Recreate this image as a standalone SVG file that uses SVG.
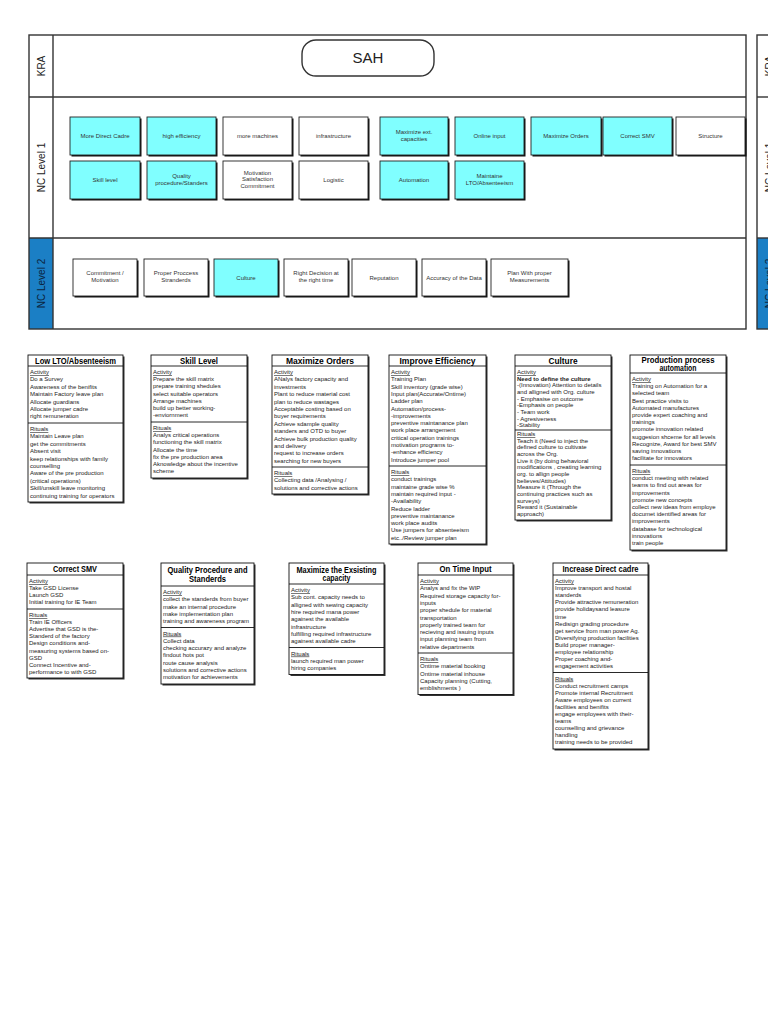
<svg xmlns="http://www.w3.org/2000/svg" width="768" height="1024" viewBox="0 0 768 1024">
<style>
.frame{fill:none;stroke:#333;stroke-width:1.4}
.fl{stroke:#333;stroke-width:1.4}
.lbl{font-family:"Liberation Sans",Arial,sans-serif;font-size:10px;fill:#222}
.lbl2{font-family:"Liberation Sans",Arial,sans-serif;font-size:10px;fill:#0b2540}
.sh{fill:#111}
.nb{stroke:#222;stroke-width:0.9}
.cy{fill:#80ffff}
.wh{fill:#fff}
.nt{font-family:"Liberation Sans",Arial,sans-serif;font-size:6px;fill:#333;text-anchor:middle}
.cb{fill:#fff;stroke:#111;stroke-width:0.9}
.cs{fill:#333}
.dv{stroke:#111;stroke-width:0.9}
.ttl{font-family:"Liberation Sans",Arial,sans-serif;font-size:9px;font-weight:bold;fill:#000;text-anchor:middle}
.tx{font-family:"Liberation Sans",Arial,sans-serif;font-size:6px;fill:#222}
.u{text-decoration:underline}
.b{font-weight:bold}
</style>
<rect width="768" height="1024" fill="#fff"/>

<g id="frame">
<rect x="29" y="238" width="24" height="91" fill="#1b7fc5"/>
<rect class="frame" x="29" y="35" width="717" height="294"/>
<line class="fl" x1="53" y1="35" x2="53" y2="329"/>
<line class="fl" x1="29" y1="97" x2="746" y2="97"/>
<line class="fl" x1="29" y1="238" x2="746" y2="238"/>
<text class="lbl" transform="translate(44.6,66) rotate(-90)" text-anchor="middle">KRA</text>
<text class="lbl" transform="translate(44.6,167.5) rotate(-90)" text-anchor="middle">NC Level 1</text>
<text class="lbl2" transform="translate(44.6,283.5) rotate(-90)" text-anchor="middle">NC Level 2</text>
</g>

<g id="frame-right">
<rect x="757" y="238" width="24" height="91" fill="#1b7fc5"/>
<rect class="frame" x="757" y="35" width="40" height="294"/>
<line class="fl" x1="757" y1="97" x2="768" y2="97"/>
<line class="fl" x1="757" y1="238" x2="768" y2="238"/>
<text class="lbl" transform="translate(772.6,66) rotate(-90)" text-anchor="middle">KRA</text>
<text class="lbl" transform="translate(772.6,167.5) rotate(-90)" text-anchor="middle">NC Level 1</text>
<text class="lbl2" transform="translate(772.6,283.5) rotate(-90)" text-anchor="middle">NC Level 2</text>
</g>

<g id="sah">
<rect x="302" y="40" width="132" height="36" rx="14" fill="#fff" stroke="#333" stroke-width="1.4"/>
<text x="368" y="63" font-family="Liberation Sans, Arial, sans-serif" font-size="15" fill="#222" text-anchor="middle">SAH</text>
</g>

<g id="nc1-more-direct-cadre"><rect class="sh" x="71.5" y="118.5" width="70" height="38"/><rect class="cy nb" x="70" y="117" width="70" height="38"/><text class="nt" x="105" y="138">More Direct Cadre</text></g>
<g id="nc1-high-efficiency"><rect class="sh" x="148.5" y="118.5" width="69" height="38"/><rect class="cy nb" x="147" y="117" width="69" height="38"/><text class="nt" x="181.5" y="138">high efficiency</text></g>
<g id="nc1-more-machines"><rect class="sh" x="224.5" y="118.5" width="69" height="38"/><rect class="wh nb" x="223" y="117" width="69" height="38"/><text class="nt" x="257.5" y="138">more machines</text></g>
<g id="nc1-infrastructure"><rect class="sh" x="300.5" y="118.5" width="69" height="38"/><rect class="wh nb" x="299" y="117" width="69" height="38"/><text class="nt" x="333.5" y="138">infrastructure</text></g>
<g id="nc1-maximize-ext"><rect class="sh" x="381.5" y="118.5" width="68" height="38"/><rect class="cy nb" x="380" y="117" width="68" height="38"/><text class="nt" x="414" y="133.5">Maximize ext.<tspan x="414" dy="7">capacities</tspan></text></g>
<g id="nc1-online-input"><rect class="sh" x="456.5" y="118.5" width="69" height="38"/><rect class="cy nb" x="455" y="117" width="69" height="38"/><text class="nt" x="489.5" y="138">Online input</text></g>
<g id="nc1-maximize-orders"><rect class="sh" x="532.5" y="118.5" width="70" height="38"/><rect class="cy nb" x="531" y="117" width="70" height="38"/><text class="nt" x="566" y="138">Maximize Orders</text></g>
<g id="nc1-correct-smv"><rect class="sh" x="604.5" y="118.5" width="69" height="38"/><rect class="cy nb" x="603" y="117" width="69" height="38"/><text class="nt" x="637.5" y="138">Correct SMV</text></g>
<g id="nc1-structure"><rect class="sh" x="677.5" y="118.5" width="69" height="38"/><rect class="wh nb" x="676" y="117" width="69" height="38"/><text class="nt" x="710.5" y="138">Structure</text></g>

<g id="nc1-skill-level"><rect class="sh" x="71.5" y="162.5" width="70" height="38"/><rect class="cy nb" x="70" y="161" width="70" height="38"/><text class="nt" x="105" y="182">Skill level</text></g>
<g id="nc1-quality"><rect class="sh" x="148.5" y="162.5" width="69" height="38"/><rect class="cy nb" x="147" y="161" width="69" height="38"/><text class="nt" x="181.5" y="178">Quality<tspan x="181.5" dy="7.2">procedure/Standers</tspan></text></g>
<g id="nc1-motivation"><rect class="sh" x="224.5" y="162.5" width="69" height="38"/><rect class="wh nb" x="223" y="161" width="69" height="38"/><text class="nt" x="257.5" y="174.5">Motivation<tspan x="257.5" dy="6.9">Satisfaction</tspan><tspan x="257.5" dy="6.9">Commitment</tspan></text></g>
<g id="nc1-logistic"><rect class="sh" x="300.5" y="162.5" width="69" height="38"/><rect class="wh nb" x="299" y="161" width="69" height="38"/><text class="nt" x="333.5" y="182">Logistic</text></g>
<g id="nc1-automation"><rect class="sh" x="381.5" y="162.5" width="68" height="38"/><rect class="cy nb" x="380" y="161" width="68" height="38"/><text class="nt" x="414" y="182">Automation</text></g>
<g id="nc1-maintaine-lto"><rect class="sh" x="456.5" y="162.5" width="69" height="38"/><rect class="cy nb" x="455" y="161" width="69" height="38"/><text class="nt" x="489.5" y="178">Maintaine<tspan x="489.5" dy="7.2">LTO/Absenteeism</tspan></text></g>

<g id="nc2-commitment"><rect class="sh" x="74.5" y="260.5" width="64" height="37"/><rect class="wh nb" x="73" y="259" width="64" height="37"/><text class="nt" x="105" y="275">Commitment /<tspan x="105" dy="7">Motivation</tspan></text></g>
<g id="nc2-proper-process"><rect class="sh" x="145.5" y="260.5" width="64" height="37"/><rect class="wh nb" x="144" y="259" width="64" height="37"/><text class="nt" x="176" y="275">Proper Proccess<tspan x="176" dy="7">Stranderds</tspan></text></g>
<g id="nc2-culture"><rect class="sh" x="215.5" y="260.5" width="64" height="37"/><rect class="cy nb" x="214" y="259" width="64" height="37"/><text class="nt" x="246" y="279.5">Culture</text></g>
<g id="nc2-right-decision"><rect class="sh" x="285.5" y="260.5" width="64" height="37"/><rect class="wh nb" x="284" y="259" width="64" height="37"/><text class="nt" x="316" y="275">Right Decision at<tspan x="316" dy="7">the right time</tspan></text></g>
<g id="nc2-reputation"><rect class="sh" x="353.5" y="260.5" width="64" height="37"/><rect class="wh nb" x="352" y="259" width="64" height="37"/><text class="nt" x="384" y="279.5">Reputation</text></g>
<g id="nc2-accuracy"><rect class="sh" x="423.5" y="260.5" width="64" height="37"/><rect class="wh nb" x="422" y="259" width="64" height="37"/><text class="nt" x="454" y="279.5">Accuracy of the Data</text></g>
<g id="nc2-plan"><rect class="sh" x="492.5" y="260.5" width="77" height="37"/><rect class="wh nb" x="491" y="259" width="77" height="37"/><text class="nt" x="529.5" y="275">Plan With proper<tspan x="529.5" dy="7">Measurements</tspan></text></g>

<g id="connectors"></g>

<g id="card-low-lto">
<rect class="cs" x="29.5" y="356.5" width="95" height="147"/><rect class="cb" x="28" y="355" width="95" height="147"/>
<line class="dv" x1="28" y1="366" x2="123" y2="366"/><line class="dv" x1="28" y1="423" x2="123" y2="423"/>
<text class="ttl" x="75.5" y="363.8" textLength="81" lengthAdjust="spacingAndGlyphs">Low LTO/Absenteeism</text>
<text class="tx" x="30" y="374"><tspan class="u">Activity</tspan><tspan x="30" dy="7.4">Do a Survey</tspan><tspan x="30" dy="7.4">Awareness of the benifits</tspan><tspan x="30" dy="7.4">Maintain Factory leave plan</tspan><tspan x="30" dy="7.4">Allocate guardians</tspan><tspan x="30" dy="7.4">Allocate jumper cadre</tspan><tspan x="30" dy="7.4">right remuneration</tspan></text>
<text class="tx" x="30" y="431"><tspan class="u">Rituals</tspan><tspan x="30" dy="7.4">Maintain Leave plan</tspan><tspan x="30" dy="7.4">get the commitments</tspan><tspan x="30" dy="7.4">Absent visit</tspan><tspan x="30" dy="7.4">keep relationships with family</tspan><tspan x="30" dy="7.4">counselling</tspan><tspan x="30" dy="7.4">Aware of the pre production</tspan><tspan x="30" dy="7.4">(critical operations)</tspan><tspan x="30" dy="7.4">Skill/unskill leave monitoring</tspan><tspan x="30" dy="7.4">continuing training for operators</tspan></text>
</g>

<g id="card-skill-level">
<rect class="cs" x="152.5" y="356.5" width="96" height="123"/><rect class="cb" x="151" y="355" width="96" height="123"/>
<line class="dv" x1="151" y1="366" x2="247" y2="366"/><line class="dv" x1="151" y1="422" x2="247" y2="422"/>
<text class="ttl" x="199" y="363.8" textLength="38" lengthAdjust="spacingAndGlyphs">Skill Level</text>
<text class="tx" x="153" y="374"><tspan class="u">Activity</tspan><tspan x="153" dy="7.2">Prepare the skill matrix</tspan><tspan x="153" dy="7.2">prepare training shedules</tspan><tspan x="153" dy="7.2">select suitable operators</tspan><tspan x="153" dy="7.2">Arrange machines</tspan><tspan x="153" dy="7.2">build up better working-</tspan><tspan x="153" dy="7.2">-enviornment</tspan></text>
<text class="tx" x="153" y="430"><tspan class="u">Rituals</tspan><tspan x="153" dy="7.2">Analys critical operations</tspan><tspan x="153" dy="7.2">functioning the skill matrix</tspan><tspan x="153" dy="7.2">Allocate the time</tspan><tspan x="153" dy="7.2">fix the pre production area</tspan><tspan x="153" dy="7.2">Aknowledge about the incentive</tspan><tspan x="153" dy="7.2">scheme</tspan></text>
</g>

<g id="card-maximize-orders">
<rect class="cs" x="273.5" y="356.5" width="96" height="139"/><rect class="cb" x="272" y="355" width="96" height="139"/>
<line class="dv" x1="272" y1="366" x2="368" y2="366"/><line class="dv" x1="272" y1="467" x2="368" y2="467"/>
<text class="ttl" x="320" y="363.8" textLength="68" lengthAdjust="spacingAndGlyphs">Maximize Orders</text>
<text class="tx" x="274" y="374"><tspan class="u">Activity</tspan><tspan x="274" dy="7.4">ANalys factory capacity and</tspan><tspan x="274" dy="7.4">investments</tspan><tspan x="274" dy="7.4">Plant to reduce material cost</tspan><tspan x="274" dy="7.4">plan to reduce wastages</tspan><tspan x="274" dy="7.4">Acceptable costing based on</tspan><tspan x="274" dy="7.4">buyer requirements</tspan><tspan x="274" dy="7.4">Achieve sdample quality</tspan><tspan x="274" dy="7.4">standers and OTD to buyer</tspan><tspan x="274" dy="7.4">Achieve bulk production quality</tspan><tspan x="274" dy="7.4">and delivery</tspan><tspan x="274" dy="7.4">request to increase orders</tspan><tspan x="274" dy="7.4">searching for new buyers</tspan></text>
<text class="tx" x="274" y="475"><tspan class="u">Rituals</tspan><tspan x="274" dy="7.4">Collecting data /Analysing /</tspan><tspan x="274" dy="7.4">solutions and corrective actions</tspan></text>
</g>

<g id="card-improve-efficiency">
<rect class="cs" x="390.5" y="356.5" width="97" height="189"/><rect class="cb" x="389" y="355" width="97" height="189"/>
<line class="dv" x1="389" y1="366" x2="486" y2="366"/><line class="dv" x1="389" y1="466" x2="486" y2="466"/>
<text class="ttl" x="437.5" y="363.8" textLength="76" lengthAdjust="spacingAndGlyphs">Improve Efficiency</text>
<text class="tx" x="391" y="374"><tspan class="u">Activity</tspan><tspan x="391" dy="7.3">Training Plan</tspan><tspan x="391" dy="7.3">Skill inventory (grade wise)</tspan><tspan x="391" dy="7.3">Input plan(Accurate/Ontime)</tspan><tspan x="391" dy="7.3">Ladder plan</tspan><tspan x="391" dy="7.3">Automation/process-</tspan><tspan x="391" dy="7.3">-improvements</tspan><tspan x="391" dy="7.3">preventive maintanance plan</tspan><tspan x="391" dy="7.3">work place arrangement</tspan><tspan x="391" dy="7.3">critical operation trainings</tspan><tspan x="391" dy="7.3">motivation programs to-</tspan><tspan x="391" dy="7.3">-enhance efficiency</tspan><tspan x="391" dy="7.3">Introduce jumper pool</tspan></text>
<text class="tx" x="391" y="474"><tspan class="u">Rituals</tspan><tspan x="391" dy="7.3">conduct trainings</tspan><tspan x="391" dy="7.3">maintaine grade wise %</tspan><tspan x="391" dy="7.3">maintain required input -</tspan><tspan x="391" dy="7.3">-Availability</tspan><tspan x="391" dy="7.3">Reduce ladder</tspan><tspan x="391" dy="7.3">preventive maintanance</tspan><tspan x="391" dy="7.3">work place audits</tspan><tspan x="391" dy="7.3">Use jumpers for absenteeism</tspan><tspan x="391" dy="7.3">etc../Review jumper plan</tspan></text>
</g>

<g id="card-culture">
<rect class="cs" x="516.5" y="356.5" width="96" height="165"/><rect class="cb" x="515" y="355" width="96" height="165"/>
<line class="dv" x1="515" y1="366" x2="611" y2="366"/><line class="dv" x1="515" y1="430" x2="611" y2="430"/>
<text class="ttl" x="563" y="363.8" textLength="29" lengthAdjust="spacingAndGlyphs">Culture</text>
<text class="tx" x="517" y="374"><tspan class="u">Activity</tspan><tspan x="517" dy="6.65" class="b">Need to define the culture</tspan><tspan x="517" dy="6.65">-(Innovation) Attention to details</tspan><tspan x="517" dy="6.65">and alligned with Org. culture</tspan><tspan x="517" dy="6.65">- Emphasise on outcome</tspan><tspan x="517" dy="6.65">-Emphasis on people</tspan><tspan x="517" dy="6.65">- Team work</tspan><tspan x="517" dy="6.65">- Agresiveness</tspan><tspan x="517" dy="6.65">-Stability</tspan></text>
<text class="tx" x="517" y="436"><tspan class="u">Rituals</tspan><tspan x="517" dy="6.65">Teach it (Need to inject the</tspan><tspan x="517" dy="6.65">defined culture to cultivate</tspan><tspan x="517" dy="6.65">across the Org.</tspan><tspan x="517" dy="6.65">Live it (by doing behavioral</tspan><tspan x="517" dy="6.65">modifications , creating learning</tspan><tspan x="517" dy="6.65">org. to allign people</tspan><tspan x="517" dy="6.65">believes/Attitudes)</tspan><tspan x="517" dy="6.65">Measure it (Through the</tspan><tspan x="517" dy="6.65">continuing practices such as</tspan><tspan x="517" dy="6.65">surveys)</tspan><tspan x="517" dy="6.65">Reward it (Sustainable</tspan><tspan x="517" dy="6.65">approach)</tspan></text>
</g>

<g id="card-production-automation">
<rect class="cs" x="631.5" y="356.5" width="96" height="195"/><rect class="cb" x="630" y="355" width="96" height="195"/>
<line class="dv" x1="630" y1="373" x2="726" y2="373"/><line class="dv" x1="630" y1="465" x2="726" y2="465"/>
<text class="ttl" x="678" y="362.5" textLength="73" lengthAdjust="spacingAndGlyphs">Production process</text>
<text class="ttl" x="678" y="370.5" textLength="37" lengthAdjust="spacingAndGlyphs">automation</text>
<text class="tx" x="632" y="381"><tspan class="u">Activity</tspan><tspan x="632" dy="7.2">Training on Automation for a</tspan><tspan x="632" dy="7.2">selected team</tspan><tspan x="632" dy="7.2">Best practice visits to</tspan><tspan x="632" dy="7.2">Automated manufactures</tspan><tspan x="632" dy="7.2">provide expert coaching and</tspan><tspan x="632" dy="7.2">trainings</tspan><tspan x="632" dy="7.2">promote innovation related</tspan><tspan x="632" dy="7.2">suggesion shceme for all levels</tspan><tspan x="632" dy="7.2">Recognize, Award for best SMV</tspan><tspan x="632" dy="7.2">saving innovations</tspan><tspan x="632" dy="7.2">facilitate for innovators</tspan></text>
<text class="tx" x="632" y="473"><tspan class="u">Rituals</tspan><tspan x="632" dy="7.2">conduct meeting with related</tspan><tspan x="632" dy="7.2">teams to find out areas for</tspan><tspan x="632" dy="7.2">improvements</tspan><tspan x="632" dy="7.2">promote new concepts</tspan><tspan x="632" dy="7.2">collect new ideas from employe</tspan><tspan x="632" dy="7.2">documet identified areas for</tspan><tspan x="632" dy="7.2">improvements</tspan><tspan x="632" dy="7.2">database for technological</tspan><tspan x="632" dy="7.2">innovations</tspan><tspan x="632" dy="7.2">train people</tspan></text>
</g>

<g id="card-correct-smv">
<rect class="cs" x="28.5" y="564.5" width="96" height="115"/><rect class="cb" x="27" y="563" width="96" height="115"/>
<line class="dv" x1="27" y1="575" x2="123" y2="575"/><line class="dv" x1="27" y1="609" x2="123" y2="609"/>
<text class="ttl" x="75" y="572.3" textLength="44" lengthAdjust="spacingAndGlyphs">Correct SMV</text>
<text class="tx" x="29" y="583"><tspan class="u">Activity</tspan><tspan x="29" dy="7.1">Take GSD License</tspan><tspan x="29" dy="7.1">Launch GSD</tspan><tspan x="29" dy="7.1">Initial training for IE Team</tspan></text>
<text class="tx" x="29" y="617"><tspan class="u">Rituals</tspan><tspan x="29" dy="7.1">Train IE Officers</tspan><tspan x="29" dy="7.1">Advertise that GSD is the-</tspan><tspan x="29" dy="7.1">Standerd of the factory</tspan><tspan x="29" dy="7.1">Design conditions and-</tspan><tspan x="29" dy="7.1">measuring systems based on-</tspan><tspan x="29" dy="7.1">GSD</tspan><tspan x="29" dy="7.1">Connect Incentive and-</tspan><tspan x="29" dy="7.1">performance to with GSD</tspan></text>
</g>

<g id="card-quality-procedure">
<rect class="cs" x="162.5" y="564.5" width="93" height="121"/><rect class="cb" x="161" y="563" width="93" height="121"/>
<line class="dv" x1="161" y1="586" x2="254" y2="586"/><line class="dv" x1="161" y1="627.5" x2="254" y2="627.5"/>
<text class="ttl" x="207.5" y="573" textLength="80" lengthAdjust="spacingAndGlyphs">Quality Procedure and</text>
<text class="ttl" x="207.5" y="581.5" textLength="37" lengthAdjust="spacingAndGlyphs">Standerds</text>
<text class="tx" x="163" y="594"><tspan class="u">Activity</tspan><tspan x="163" dy="7.3">collect the standerds from buyer</tspan><tspan x="163" dy="7.3">make an internal procedure</tspan><tspan x="163" dy="7.3">make implementation plan</tspan><tspan x="163" dy="7.3">training and awareness program</tspan></text>
<text class="tx" x="163" y="635.5"><tspan class="u">Rituals</tspan><tspan x="163" dy="7.3">Collect data</tspan><tspan x="163" dy="7.3">checking accurazy and analyze</tspan><tspan x="163" dy="7.3">findout hots pot</tspan><tspan x="163" dy="7.3">route cause analysis</tspan><tspan x="163" dy="7.3">solutions and corrective actions</tspan><tspan x="163" dy="7.3">motivation for achievements</tspan></text>
</g>

<g id="card-maximize-existing">
<rect class="cs" x="290.5" y="564.5" width="95" height="111.5"/><rect class="cb" x="289" y="563" width="95" height="111.5"/>
<line class="dv" x1="289" y1="584" x2="384" y2="584"/><line class="dv" x1="289" y1="647.5" x2="384" y2="647.5"/>
<text class="ttl" x="336.5" y="573" textLength="80" lengthAdjust="spacingAndGlyphs">Maximize the Exsisting</text>
<text class="ttl" x="336.5" y="581" textLength="28" lengthAdjust="spacingAndGlyphs">capacity</text>
<text class="tx" x="291" y="592"><tspan class="u">Activity</tspan><tspan x="291" dy="7.3">Sub cont. capacity needs to</tspan><tspan x="291" dy="7.3">alligned with sewing capacity</tspan><tspan x="291" dy="7.3">hire required mana power</tspan><tspan x="291" dy="7.3">againest the available</tspan><tspan x="291" dy="7.3">infrastructure</tspan><tspan x="291" dy="7.3">fulfilling required infrastructure</tspan><tspan x="291" dy="7.3">againest available cadre</tspan></text>
<text class="tx" x="291" y="655.5"><tspan class="u">Rituals</tspan><tspan x="291" dy="7.3">launch required man power</tspan><tspan x="291" dy="7.3">hiring companies</tspan></text>
</g>

<g id="card-on-time-input">
<rect class="cs" x="419.5" y="564.5" width="95" height="131.5"/><rect class="cb" x="418" y="563" width="95" height="131.5"/>
<line class="dv" x1="418" y1="575" x2="513" y2="575"/><line class="dv" x1="418" y1="653" x2="513" y2="653"/>
<text class="ttl" x="465.5" y="572.3" textLength="52" lengthAdjust="spacingAndGlyphs">On Time Input</text>
<text class="tx" x="420" y="583"><tspan class="u">Activity</tspan><tspan x="420" dy="7.3">Analys and fix the WIP</tspan><tspan x="420" dy="7.3">Required storage capacity for-</tspan><tspan x="420" dy="7.3">inputs</tspan><tspan x="420" dy="7.3">proper shedule for material</tspan><tspan x="420" dy="7.3">transportation</tspan><tspan x="420" dy="7.3">properly trained team for</tspan><tspan x="420" dy="7.3">recieving and issuing inputs</tspan><tspan x="420" dy="7.3">input planning team from</tspan><tspan x="420" dy="7.3">relative departments</tspan></text>
<text class="tx" x="420" y="661"><tspan class="u">Rituals</tspan><tspan x="420" dy="7.3">Ontime material booking</tspan><tspan x="420" dy="7.3">Ontime material inhouse</tspan><tspan x="420" dy="7.3">Capacity planning (Cutting,</tspan><tspan x="420" dy="7.3">emblishments )</tspan></text>
</g>

<g id="card-increase-direct-cadre">
<rect class="cs" x="554.5" y="564.5" width="95" height="186"/><rect class="cb" x="553" y="563" width="95" height="186"/>
<line class="dv" x1="553" y1="575" x2="648" y2="575"/><line class="dv" x1="553" y1="672.5" x2="648" y2="672.5"/>
<text class="ttl" x="600.5" y="572.3" textLength="76" lengthAdjust="spacingAndGlyphs">Increase Direct cadre</text>
<text class="tx" x="555" y="583"><tspan class="u">Activity</tspan><tspan x="555" dy="7.1">Improve transport and hostal</tspan><tspan x="555" dy="7.1">standerds</tspan><tspan x="555" dy="7.1">Provide attractive remuneration</tspan><tspan x="555" dy="7.1">provide holidaysand leasure</tspan><tspan x="555" dy="7.1">time</tspan><tspan x="555" dy="7.1">Redisign grading procedure</tspan><tspan x="555" dy="7.1">get service from man power Ag.</tspan><tspan x="555" dy="7.1">Diversifying production facilities</tspan><tspan x="555" dy="7.1">Build proper manager-</tspan><tspan x="555" dy="7.1">employee relationship</tspan><tspan x="555" dy="7.1">Proper coaching and-</tspan><tspan x="555" dy="7.1">engagement activities</tspan></text>
<text class="tx" x="555" y="680.5"><tspan class="u">Rituals</tspan><tspan x="555" dy="7.1">Conduct recruitment camps</tspan><tspan x="555" dy="7.1">Promote internal Recruitment</tspan><tspan x="555" dy="7.1">Aware employees on current</tspan><tspan x="555" dy="7.1">facilities and benifits</tspan><tspan x="555" dy="7.1">engage employees with their-</tspan><tspan x="555" dy="7.1">teams</tspan><tspan x="555" dy="7.1">counselling and grievance</tspan><tspan x="555" dy="7.1">handling</tspan><tspan x="555" dy="7.1">training needs to be provided</tspan></text>
</g>
</svg>
